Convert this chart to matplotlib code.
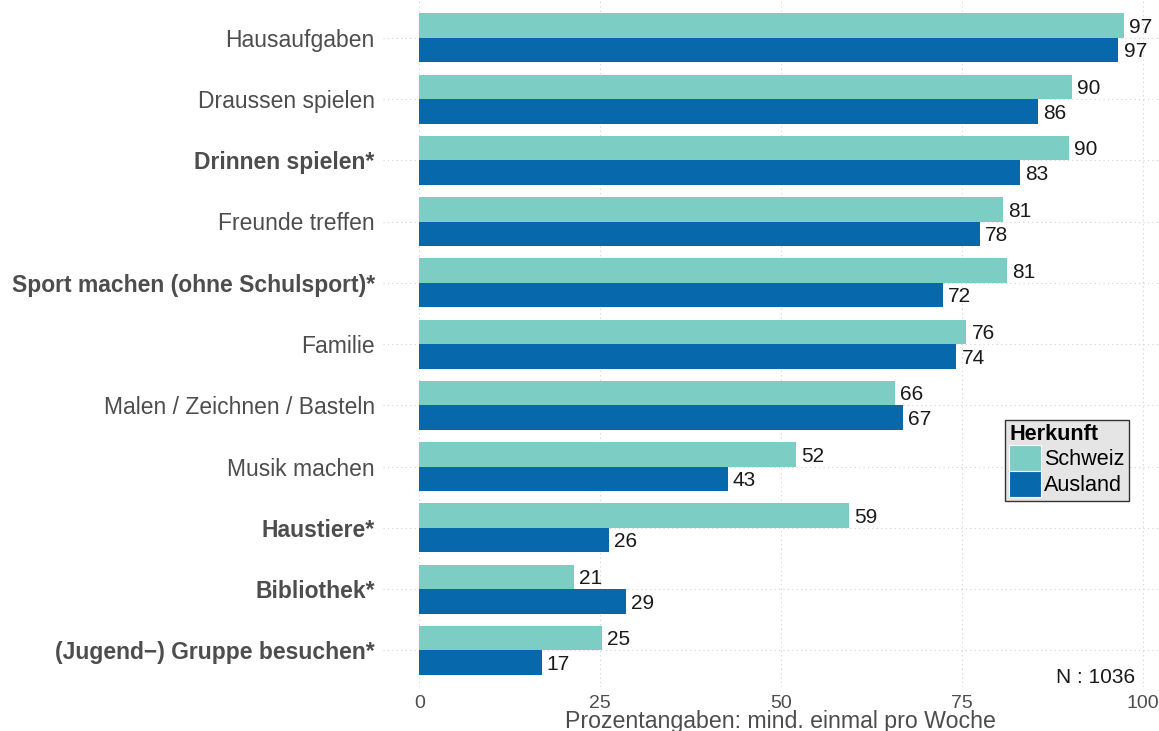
import matplotlib
matplotlib.use("Agg")
import matplotlib.pyplot as plt
from matplotlib.patches import Patch
import numpy as np

plt.rcParams['font.family'] = ['Liberation Sans', 'DejaVu Sans']

# data
categories = [
    "Hausaufgaben", "Draussen spielen", "Drinnen spielen*", "Freunde treffen",
    "Sport machen (ohne Schulsport)*", "Familie", "Malen / Zeichnen / Basteln",
    "Musik machen", "Haustiere*", "Bibliothek*", "(Jugend\u2212) Gruppe besuchen*",
]
bold = [False, False, True, False, True, False, False, False, True, True, True]
schweiz = [97.4, 90.2, 89.8, 80.6, 81.2, 75.6, 65.7, 52.0, 59.4, 21.4, 25.2]
ausland = [96.6, 85.5, 83.0, 77.5, 72.4, 74.2, 66.8, 42.6, 26.2, 28.6, 16.9]
xticks = [0, 25, 50, 75, 100]
n_text = "N : 1036"

c_schweiz = "#7ccdc4"
c_ausland = "#0868ac"
grey_txt = "#4d4d4d"

fig = plt.figure(figsize=(11.59, 7.31), dpi=100)
ax = fig.add_axes([383 / 1159, 44 / 731, 776 / 1159, 686 / 731])

y = np.arange(len(categories))
h = 0.4
ax.barh(y - h / 2, schweiz, height=h, color=c_schweiz, zorder=2)
ax.barh(y + h / 2, ausland, height=h, color=c_ausland, zorder=2)

for yi, s, a in zip(y, schweiz, ausland):
    ax.text(s + 0.7, yi - h / 2 + 0.03, f"{s:.0f}", va="center", ha="left",
            fontsize=15, color="#1a1a1a")
    ax.text(a + 0.7, yi + h / 2 + 0.03, f"{a:.0f}", va="center", ha="left",
            fontsize=15, color="#1a1a1a")

ax.set_xlim(-5, 102.2)
ax.set_ylim(len(categories) - 0.4, -0.6)
ax.set_xticks(xticks)
ax.set_xticklabels([str(t) for t in xticks], fontsize=14, color=grey_txt)
ax.set_yticks(y)
ax.set_yticklabels(categories, fontsize=16.5, color=grey_txt)
for lbl, b in zip(ax.get_yticklabels(), bold):
    if b:
        lbl.set_fontweight("bold")
ax.tick_params(axis="both", length=0, pad=6)
ax.tick_params(axis="x", pad=6)
for sp in ax.spines.values():
    sp.set_visible(False)
ax.grid(True, color="#d0d0d0", linestyle=(0, (1, 3)), linewidth=0.8, zorder=0)
ax.set_axisbelow(True)

ax.text(98.9, 10.44, n_text, ha="right", va="center", fontsize=15, color="#1a1a1a")

fig.text(0.673, 3 / 731, "Prozentangaben: mind. einmal pro Woche", ha="center",
         va="baseline", fontsize=16.7, color=grey_txt)

handles = [Patch(facecolor=c_schweiz, edgecolor="white", linewidth=0.8),
           Patch(facecolor=c_ausland, edgecolor="white", linewidth=0.8)]
leg = ax.legend(handles, ["Schweiz", "Ausland"], title="Herkunft",
                loc="upper left", bbox_to_anchor=(1005 / 1159, 1 - 420 / 731),
                bbox_transform=fig.transFigure, fontsize=15.6,
                title_fontproperties={"weight": "bold", "size": 15.6},
                handlelength=1.45, handleheight=1.45, labelspacing=0,
                handletextpad=0.15, borderpad=0.2, borderaxespad=0,
                fancybox=False, framealpha=1, alignment="left")
leg.get_frame().set_facecolor("#e5e5e5")
leg.get_frame().set_edgecolor("#333333")
leg.get_frame().set_linewidth(1.0)

fig.savefig("out.png", dpi=100)
